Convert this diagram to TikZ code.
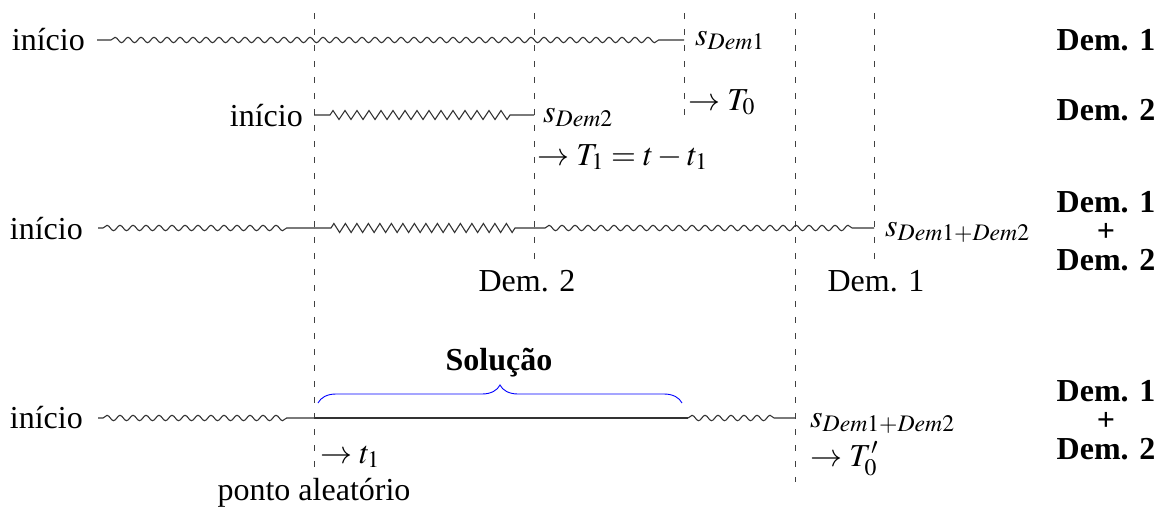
\documentclass[tikz,border=0pt]{standalone}
\usepackage{mathptmx}
\usepackage{fontspec}
\setmainfont{Liberation Serif}
\usetikzlibrary{decorations.pathmorphing,decorations.pathreplacing}
\begin{document}
\begin{tikzpicture}[x=1pt,y=-1pt,
  every node/.style={inner sep=0pt, font=\fontsize{32}{38}\selectfont},
  lbl/.style={anchor=base west},
  start/.style={anchor=base east},
  side/.style={font=\fontsize{32}{29}\selectfont\bfseries, align=center},
  guide/.style={dash pattern=on 6pt off 10pt, line width=0.9pt, black!75},
  track/.style={line width=1.1pt, black!80},
  wave/.style={track, decorate, decoration={snake, segment length=13pt, amplitude=2.7pt}},
  zig/.style={track, decorate, decoration={zigzag, segment length=12pt, amplitude=4.5pt}},
  soln/.style={blue, line width=0.9pt, decorate, decoration={brace, amplitude=18pt}}]
\useasboundingbox (0,0) rectangle (1167,506);
% guide lines
\coordinate (g1t) at (314,13); \coordinate (g1b) at (314,467);
\coordinate (g2t) at (534,13); \coordinate (g2b) at (534,266);
\coordinate (g3t) at (684,13); \coordinate (g3b) at (684,117);
\coordinate (g4t) at (795,13); \coordinate (g4b) at (795,482);
\coordinate (g5t) at (874,13); \coordinate (g5b) at (874,260);
\draw[guide] (g1t) -- (g1b);
\draw[guide] (g2t) -- (g2b);
\draw[guide] (g3t) -- (g3b);
\draw[guide] (g4t) -- (g4b);
\draw[guide] (g5t) -- (g5b);
% row 1
\node[start] (st1) at (85,50) {início};
\coordinate (r1a) at (97,40); \coordinate (r1b) at (684,40);
\draw[wave, decoration={pre length=14pt, post length=22pt}] (r1a) -- (r1b);
\node[lbl] (s1) at (695,45) {$s_{Dem1}$};
\node[lbl] (T0) at (688,110) {$\to T_0$};
\node[side, anchor=base] (d1) at (1106,50) {Dem. 1};
% row 2
\node[start] (st2) at (303,126) {início};
\coordinate (r2a) at (314,115); \coordinate (r2b) at (534,115);
\draw[zig, decoration={pre length=16pt, post length=21pt}] (r2a) -- (r2b);
\node[lbl] (s2) at (543,122) {$s_{Dem2}$};
\node[lbl] (T1) at (537,165) {$\to T_1 = t - t_1$};
\node[side, anchor=base] (d2) at (1106,120) {Dem. 2};
% row 3
\node[start] (st3) at (83,239) {início};
\coordinate (r3a) at (98,228); \coordinate (r3b) at (314,228);
\coordinate (r3c) at (534,228); \coordinate (r3d) at (874,228);
\draw[wave, decoration={pre length=5pt, post length=25pt}] (r3a) -- (r3b);
\draw[zig, decoration={segment length=11.5pt, pre length=17pt, post length=18pt}] (r3b) -- (r3c);
\draw[wave, decoration={pre length=11pt, post length=17pt}] (r3c) -- (r3d);
\node[lbl] (s3) at (885,236) {$s_{Dem1+Dem2}$};
\node[anchor=base] (l2) at (527,291) {Dem. 2};
\node[anchor=base] (l1) at (876,291) {Dem. 1};
\node[side] (d3) at (1106,231) {Dem. 1\\+\\Dem. 2};
% row 4
\node[start] (st4) at (83,428) {início};
\coordinate (r4a) at (98,418); \coordinate (r4b) at (315,418);
\coordinate (r4c) at (688,418); \coordinate (r4d) at (795,418);
\draw[wave, decoration={pre length=5pt, post length=27pt}] (r4a) -- (r4b);
\draw[track] (r4b) -- (r4c);
\draw[wave, decoration={pre length=0pt, post length=19pt}] (r4c) -- (r4d);
\node[lbl] (s4) at (810,427) {$s_{Dem1+Dem2}$};
\node[lbl] (T0p) at (810,466) {$\to T_0'$};
\node[side] (d4) at (1106,420) {Dem. 1\\+\\Dem. 2};
\coordinate (b1) at (318,403); \coordinate (b2) at (682,403);
\draw[soln] (b1) -- (b2);
\node[font=\fontsize{32}{38}\selectfont\bfseries] (sol) at (499,363) {Solução};
\node[lbl] (t1) at (320,463) {$\to t_1$};
\node[anchor=base] (pa) at (314,500) {ponto aleatório};
\end{tikzpicture}
\end{document}
